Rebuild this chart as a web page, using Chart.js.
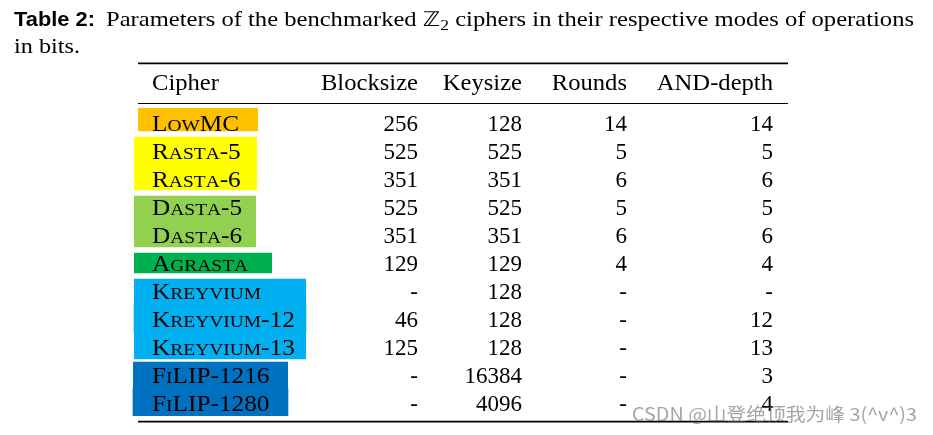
<!DOCTYPE html>
<html>
<head>
<meta charset="utf-8">
<script src="https://cdn.jsdelivr.net/npm/chart.js@4/dist/chart.umd.min.js"></script>
<style>
  html, body { margin: 0; padding: 0; background: #fff; }
  #wrap { width: 933px; height: 435px; position: relative; }
</style>
</head>
<body>
<div id="wrap"><canvas id="table" width="933" height="435"></canvas></div>
<script>
// Table data
const headers = ["Cipher", "Blocksize", "Keysize", "Rounds", "AND-depth"];
const ciphers = ["LowMC", "Rasta-5", "Rasta-6", "Dasta-5", "Dasta-6", "Agrasta",
  "Kreyvium", "Kreyvium-12", "Kreyvium-13", "FiLIP-1216", "FiLIP-1280"];
const blocksize = [256, 525, 351, 525, 351, 129, null, 46, 125, null, null];
const keysize = [128, 525, 351, 525, 351, 129, 128, 128, 128, 16384, 4096];
const rounds = [14, 5, 6, 5, 6, 4, null, null, null, null, null];
const andDepth = [14, 5, 6, 5, 6, 4, null, 12, 13, 3, 4];
// cipher family of each row
const family = [0, 1, 1, 2, 2, 3, 4, 4, 4, 5, 5];

// Styling / layout
const familyColors = ["#FFC000", "#FFFF00", "#92D050", "#00B050", "#00B0F0", "#0070C0"];
const familySpan = [[138, 258], [134, 257], [134, 256], [134, 272], [134, 306], [133, 288]];
const gapTop = [0, 1, 0, 4, 0, 5, 3, 0, 0, 2, 0];
const gapBottom = [5, 0, 2, 0, 1, 3, 0, 0, 1, 0, 0];
const colRight = [null, 418, 522, 627, 773];
const cipherLeft = 152;
const SERIF = '"Liberation Serif", "DejaVu Serif", serif';
const CELL_SIZE = 23;
const NAME_STRETCH = 1.1;
const HEAD_STRETCH = 1.07;

function cellText(v) {
  return v === null ? "-" : String(v);
}

// small caps: lowercase letters drawn as smaller capitals
function drawSmallCaps(ctx, text, x, y, size, sx) {
  ctx.save();
  ctx.translate(x, y);
  ctx.scale(sx, 1);
  let cx = 0;
  for (const ch of text) {
    const lower = ch !== ch.toUpperCase();
    ctx.font = `${lower ? size * 0.77 : size}px ${SERIF}`;
    const s = ch.toUpperCase();
    ctx.fillText(s, cx, 0);
    cx += ctx.measureText(s).width;
  }
  ctx.restore();
}

// text with horizontal stretch, anchored at left or right
function drawStretched(ctx, text, x, y, sx, align) {
  ctx.save();
  ctx.translate(x, y);
  ctx.scale(sx, 1);
  ctx.textAlign = align;
  ctx.fillText(text, 0, 0);
  ctx.restore();
}

// draw a run of segments stretched to a target width
function drawFitted(ctx, segments, x, y, width) {
  let natural = 0;
  segments.forEach((s) => {
    ctx.font = s.font;
    natural += ctx.measureText(s.text).width;
  });
  ctx.save();
  ctx.translate(x, y);
  ctx.scale(width / natural, 1);
  let cx = 0;
  segments.forEach((s) => {
    ctx.font = s.font;
    ctx.fillText(s.text, cx, s.dy || 0);
    cx += ctx.measureText(s.text).width;
  });
  ctx.restore();
}

function hline(ctx, y, w) {
  ctx.save();
  ctx.strokeStyle = "#000";
  ctx.lineWidth = w;
  ctx.beginPath();
  ctx.moveTo(138, y);
  ctx.lineTo(788, y);
  ctx.stroke();
  ctx.restore();
}

const tablePlugin = {
  id: "tableText",
  afterDatasetsDraw(chart) {
    const ctx = chart.ctx;
    const yScale = chart.scales.y;
    ctx.save();
    ctx.fillStyle = "#000";
    ctx.textBaseline = "alphabetic";

    // caption
    ctx.textAlign = "left";
    drawFitted(ctx, [{ text: "Table 2:", font: 'bold 20px "Liberation Sans", sans-serif' }], 14, 26, 81);
    drawFitted(ctx, [
      { text: "Parameters of the benchmarked ", font: `21px ${SERIF}` },
      { text: "\u2124", font: '20px "DejaVu Sans", sans-serif' },
      { text: "2", font: `15px ${SERIF}`, dy: 4 },
      { text: " ciphers in their respective modes of operations", font: `21px ${SERIF}` },
    ], 106, 26, 808);
    drawFitted(ctx, [{ text: "in bits.", font: `21px ${SERIF}` }], 14, 53, 66);

    // rules
    const top = yScale.top;
    hline(ctx, 63.3, 1.8);
    hline(ctx, top - 4.5, 1.1);
    hline(ctx, yScale.bottom + 5.7, 1.8);

    // header
    const headY = top - 18;
    ctx.font = `${CELL_SIZE}px ${SERIF}`;
    headers.forEach((h, c) => {
      if (c === 0) {
        drawStretched(ctx, h, cipherLeft, headY, HEAD_STRETCH, "left");
      } else {
        drawStretched(ctx, h, colRight[c], headY, HEAD_STRETCH, "right");
      }
    });

    // rows
    const cols = [blocksize, keysize, rounds, andDepth];
    ciphers.forEach((name, i) => {
      const y = yScale.getPixelForValue(i) + 8.5;
      ctx.textAlign = "left";
      drawSmallCaps(ctx, name, cipherLeft, y, CELL_SIZE, NAME_STRETCH);
      ctx.font = `${CELL_SIZE}px ${SERIF}`;
      ctx.textAlign = "right";
      cols.forEach((arr, c) => {
        ctx.fillText(cellText(arr[i]), colRight[c + 1], y);
      });
    });

    // watermark
    ctx.textAlign = "left";
    ctx.fillStyle = "rgba(90, 90, 90, 0.55)";
    drawFitted(ctx, [{ text: "CSDN @山登绝顶我为峰 3(^v^)3", font: '18px "Noto Sans CJK SC", sans-serif' }], 632, 421, 285);
    ctx.restore();
  },
};

const ctx = document.getElementById("table").getContext("2d");
new Chart(ctx, {
  type: "bar",
  data: {
    labels: ciphers,
    datasets: [
      {
        data: ciphers.map((c, i) => familySpan[family[i]]),
        backgroundColor: ciphers.map((c, i) => familyColors[family[i]]),
        borderColor: "#fff",
        borderWidth: (c) => ({
          top: gapTop[c.dataIndex],
          bottom: gapBottom[c.dataIndex],
          left: 0,
          right: 0,
        }),
        borderSkipped: false,
        barPercentage: 1,
        categoryPercentage: 1,
      },
    ],
  },
  options: {
    indexAxis: "y",
    responsive: false,
    animation: false,
    layout: { padding: { top: 108, bottom: 19, left: 0, right: 0 } },
    scales: {
      x: { type: "linear", min: 0, max: 933, display: false },
      y: { display: false, offset: true },
    },
    plugins: {
      legend: { display: false },
      tooltip: { enabled: false },
    },
  },
  plugins: [tablePlugin],
});
</script>
</body>
</html>
